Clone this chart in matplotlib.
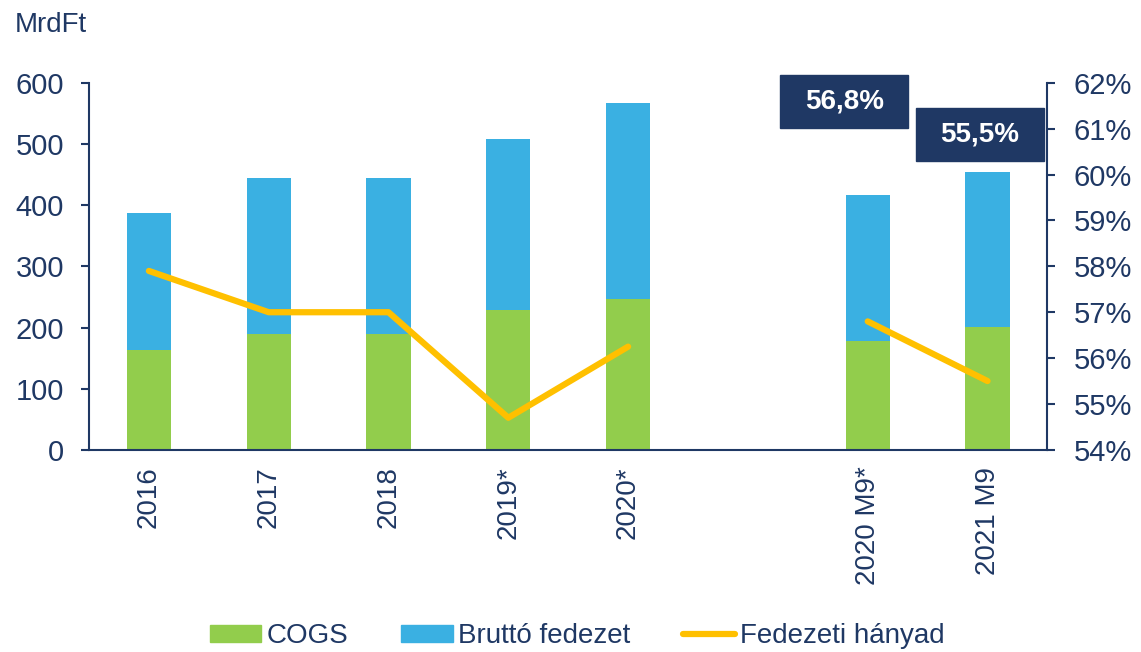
import numpy as np
import matplotlib.pyplot as plt
from matplotlib.patches import Rectangle
from matplotlib.lines import Line2D

plt.rcParams['font.family'] = ['Liberation Sans', 'DejaVu Sans']

# data (MrdFt and %), blank slot between the yearly and the M9 columns
categories = ['2016', '2017', '2018', '2019*', '2020*', '', '2020 M9*', '2021 M9']
cogs = [163, 190, 190, 229, 247, np.nan, 178, 201]
brutto = [225, 254, 255, 279, 320, np.nan, 238, 253]
hanyad = [57.9, 57.0, 57.0, 54.7, 56.25, np.nan, 56.8, 55.5]
box_idx = [6, 7]

navy = '#1F3864'
green = '#92CD4C'
blue = '#3AB0E2'
yellow = '#FFC000'

fig = plt.figure(figsize=(11.41, 6.52), dpi=100)
ax = fig.add_axes([0.078, 0.31, 0.84, 0.563])
x = np.arange(len(categories))

ax.bar(x, cogs, width=0.37, color=green, zorder=2)
ax.bar(x, brutto, bottom=cogs, width=0.37, color=blue, zorder=2)
ax.set_xlim(-0.5, len(categories) - 0.5)
ax.set_ylim(0, 600)
ax.set_yticks(range(0, 601, 100))
ax.set_xticks(x)
ax.set_xticklabels(categories, rotation=90)
ax.tick_params(axis='x', length=0, pad=12, labelsize=20, labelcolor=navy)
ax.tick_params(axis='y', length=6, width=1.5, color=navy, labelsize=21, labelcolor=navy, pad=12)
for s in ['top', 'right']:
    ax.spines[s].set_visible(False)
for s in ['left', 'bottom']:
    ax.spines[s].set_color(navy)
    ax.spines[s].set_linewidth(1.5)

ax2 = ax.twinx()
ax2.plot(x, hanyad, color=yellow, lw=4.5, solid_capstyle='round', zorder=3)
ax2.set_ylim(54, 62)
ax2.set_yticks(range(54, 63))
ax2.set_yticklabels([f'{v}%' for v in range(54, 63)])
ax2.tick_params(axis='y', length=6, width=1.5, color=navy, labelsize=21, labelcolor=navy, pad=13)
for s in ['top', 'left', 'bottom']:
    ax2.spines[s].set_visible(False)
ax2.spines['right'].set_color(navy)
ax2.spines['right'].set_linewidth(1.5)

# value boxes for the M9 ratios
box_pos = [(5.27, 61.01), (6.40, 60.30)]
for i, (bx, by) in zip(box_idx, box_pos):
    ax2.add_patch(Rectangle((bx, by), 1.07, 1.16, color=navy, clip_on=False, zorder=5))
    ax2.text(bx + 0.535, by + 0.58, f'{hanyad[i]:.1f}%'.replace('.', ','),
             color='white', fontsize=20, fontweight='bold', ha='center', va='center', zorder=6)

fig.text(0.013, 0.962, 'MrdFt', fontsize=20, color=navy, va='center')

handles = [Rectangle((0, 0), 1, 1, color=green), Rectangle((0, 0), 1, 1, color=blue),
           Line2D([], [], color=yellow, lw=4.5, solid_capstyle='round')]
fig.legend(handles, ['COGS', 'Bruttó fedezet', 'Fedezeti hányad'], loc='center',
           bbox_to_anchor=(0.506, 0.024), ncol=3, frameon=False, fontsize=20,
           labelcolor=navy, handlelength=1.85, handleheight=0.55, handletextpad=0.2,
           columnspacing=1.9, borderpad=0)

fig.savefig('out.png', dpi=100)
